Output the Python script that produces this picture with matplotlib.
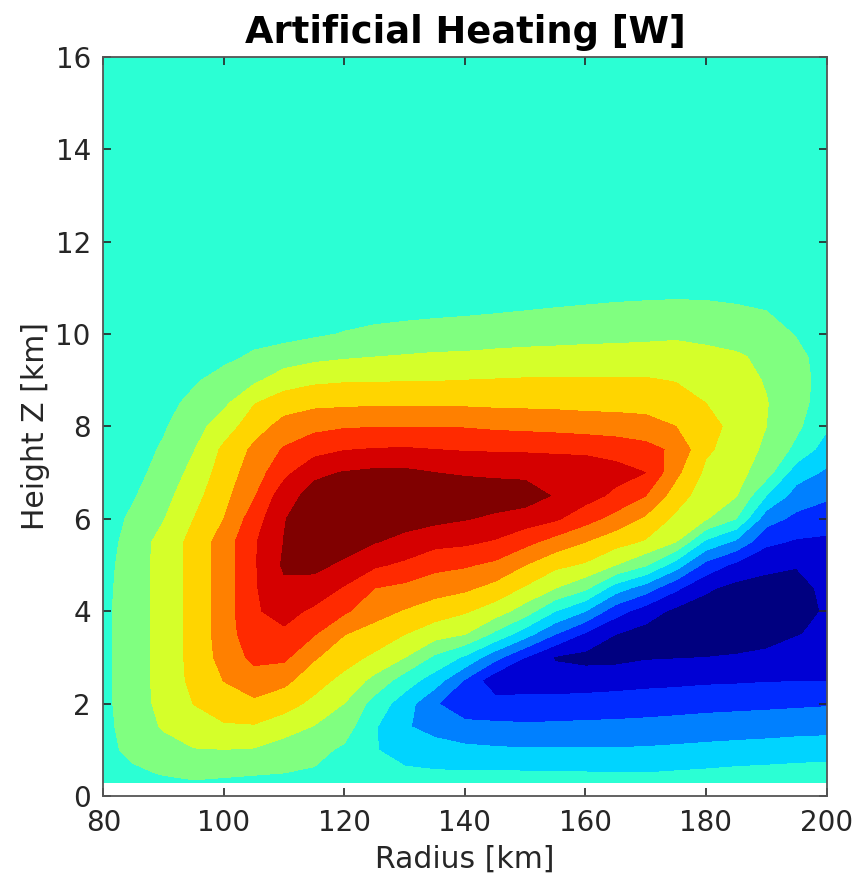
import numpy as np
import matplotlib
matplotlib.use("Agg")
import matplotlib.pyplot as plt
from matplotlib.colors import ListedColormap, BoundaryNorm

# ---------------- data ----------------
radius_km = [80, 85, 90, 95, 100, 105, 110, 115, 120, 125, 130, 135, 140,
             145, 150, 155, 160, 165, 170, 175, 180, 185, 190, 195, 200]
height_km = [0.3, 0.5, 1.0, 1.5, 2.0, 2.5, 3.0, 3.5, 4.0, 4.5, 5.0, 5.5, 6.0,
             6.5, 7.0, 7.5, 8.0, 8.5, 9.0, 9.5, 10.0, 10.5, 11.0, 11.5, 16.0]

# heating (contour-level units) along each radius column, bottom -> top
h_r080 = [0, 0.1, 0.21, 0.22, 0.26, 0.27, 0.27, 0.27, 0.27, 0.22, 0.14, 0.02, 0, 0, 0, 0, 0, 0, 0, 0, 0, 0, 0, 0, 0]
h_r085 = [0.15, 0.33, 0.75, 0.95, 1.02, 1.04, 1.04, 1.04, 1.04, 1.04, 1.04, 0.95, 0.7, 0.42, 0.2, 0.08, 0, 0, 0, 0, 0, 0, 0, 0, 0]
h_r090 = [0.3, 0.57, 1.1, 1.6, 1.8, 1.86, 1.86, 1.86, 1.86, 1.86, 1.86, 1.86, 1.45, 1.15, 0.85, 0.62, 0.4, 0.2, 0.07, 0, 0, 0, 0, 0, 0]
h_r095 = [0.45, 0.65, 1.45, 2.05, 2.52, 2.75, 2.82, 2.82, 2.82, 2.82, 2.82, 2.82, 2.5, 2.15, 1.8, 1.45, 1.1, 0.75, 0.38, 0.1, 0, 0, 0, 0, 0]
h_r100 = [0.4, 0.6, 1.48, 2.38, 3.0, 3.52, 3.85, 3.97, 3.97, 3.97, 3.97, 3.97, 3.5, 3.2, 2.95, 2.7, 2.0, 1.3, 0.85, 0.28, 0.05, 0, 0, 0, 0]
h_r105 = [0.35, 0.55, 1.42, 2.4, 3.3, 4.05, 4.75, 5.15, 5.38, 5.38, 5.38, 5.38, 5.0, 4.4, 4.0, 3.7, 3.05, 2.45, 1.3, 0.65, 0.15, 0, 0, 0, 0]
h_r110 = [0.3, 0.5, 1.0, 1.95, 2.9, 3.75, 4.7, 5.3, 5.85, 6.3, 6.65, 6.53, 6.45, 6.1, 5.2, 4.6, 3.85, 3.05, 2.0, 1.0, 0.15, 0, 0, 0, 0]
h_r115 = [0.2, 0.38, 0.82, 1.45, 2.25, 2.9, 3.6, 4.55, 5.3, 6.1, 6.75, 7.05, 7.1, 6.85, 6.3, 5.1, 4.25, 3.25, 2.3, 1.25, 0.35, 0.05, 0, 0, 0]
h_r120 = [0.1, 0.2, 0.32, 0.95, 1.48, 2.2, 2.9, 3.52, 4.65, 5.4, 6.3, 6.95, 7.2, 7.05, 6.55, 5.45, 4.4, 3.3, 2.4, 1.4, 0.55, 0.12, 0, 0, 0]
h_r125 = [-0.1, -0.25, -0.45, -0.4, 0.1, 1.2, 2.3, 3.1, 3.85, 4.5, 5.65, 6.55, 7.15, 7.2, 6.7, 5.55, 4.45, 3.35, 2.4, 1.5, 0.7, 0.2, 0, 0, 0]
h_r130 = [-0.2, -0.35, -0.85, -1.4, -1.0, 0.0, 1.5, 2.5, 3.42, 4.25, 5.3, 6.2, 6.9, 7.1, 6.7, 5.6, 4.45, 3.35, 2.45, 1.58, 0.8, 0.25, 0, 0, 0]
h_r135 = [-0.25, -0.4, -1.1, -1.85, -2.4, -1.0, 0.3, 1.9, 3.0, 3.9, 4.8, 5.8, 6.75, 7.05, 6.5, 5.5, 4.45, 3.35, 2.45, 1.65, 0.9, 0.3, 0, 0, 0]
h_r140 = [-0.25, -0.42, -1.27, -2.19, -3.2, -2.6, -0.67, 1.5, 2.61, 3.68, 4.61, 5.68, 6.55, 7.0, 6.4, 5.42, 4.43, 3.33, 2.5, 1.67, 0.97, 0.35, 0.05, 0, 0]
h_r145 = [-0.1, -0.4, -1.36, -2.31, -3.12, -4.2, -2.17, 0.25, 2.0, 3.17, 4.28, 5.39, 6.32, 7.0, 6.32, 5.39, 4.31, 3.28, 2.54, 1.74, 1.05, 0.42, 0.1, 0, 0]
h_r150 = [-0.1, -0.42, -1.42, -2.35, -3.17, -4.03, -3.5, -1.1, 1.0, 2.38, 3.5, 4.79, 6.0, 7.0, 6.25, 5.37, 4.24, 3.26, 2.58, 1.79, 1.11, 0.5, 0.15, 0, 0]
h_r155 = [-0.1, -0.42, -1.42, -2.32, -3.15, -4.05, -4.6, -2.5, -0.5, 1.5, 2.75, 4.1, 5.64, 6.4, 6.15, 5.33, 4.17, 3.24, 2.6, 1.82, 1.15, 0.55, 0.18, 0, 0]
h_r160 = [-0.08, -0.46, -1.42, -2.28, -3.1, -4.0, -4.8, -3.67, -1.5, 0.7, 2.36, 3.5, 4.88, 5.9, 6.05, 5.3, 4.05, 3.2, 2.59, 1.85, 1.2, 0.6, 0.2, 0, 0]
h_r165 = [-0.05, -0.48, -1.42, -2.24, -3.07, -3.9, -4.8, -4.5, -3.1, -1.0, 1.5, 2.88, 4.13, 5.28, 5.85, 5.12, 3.98, 3.18, 2.58, 1.88, 1.23, 0.66, 0.22, 0, 0]
h_r170 = [-0.05, -0.5, -1.39, -2.19, -3.0, -3.8, -4.6, -4.9, -4.0, -2.0, 0.6, 2.38, 3.32, 4.5, 5.5, 4.84, 3.85, 3.16, 2.58, 1.91, 1.27, 0.7, 0.24, 0, 0]
h_r175 = [-0.05, -0.42, -1.32, -2.12, -2.92, -3.75, -4.55, -4.93, -4.75, -3.3, -1.0, 1.5, 2.27, 3.0, 3.75, 4.28, 3.5, 2.97, 2.45, 1.88, 1.35, 0.73, 0.26, 0, 0]
h_r180 = [-0.05, -0.35, -1.24, -2.05, -2.83, -3.67, -4.5, -4.95, -4.95, -4.35, -2.83, -0.75, 1.57, 1.93, 2.28, 2.65, 2.85, 2.5, 2.12, 1.73, 1.28, 0.7, 0.25, 0, 0]
h_r185 = [-0.03, -0.25, -1.17, -1.99, -2.78, -3.63, -4.43, -4.95, -5.0, -4.8, -3.75, -1.7, 0.5, 1.55, 1.85, 2.08, 2.2, 2.12, 1.9, 1.62, 1.12, 0.62, 0.2, 0, 0]
h_r190 = [0.0, -0.2, -1.1, -1.95, -2.72, -3.57, -4.3, -4.85, -5.0, -4.8, -4.3, -3.28, -2.07, -0.5, 0.95, 1.3, 1.5, 1.55, 1.42, 1.3, 0.85, 0.5, 0.15, 0, 0]
h_r195 = [0.05, -0.15, -1.0, -1.89, -2.66, -3.54, -4.05, -4.55, -4.85, -4.8, -4.45, -3.62, -2.76, -1.92, -1.05, 0.25, 0.7, 0.82, 0.83, 0.72, 0.45, 0.2, 0.05, 0, 0]
h_r200 = [0.1, -0.1, -0.95, -1.85, -2.6, -3.55, -4.0, -4.3, -4.4, -4.3, -4.05, -3.7, -3.0, -2.35, -1.65, -0.98, -0.35, 0.05, 0.15, 0.15, 0.1, 0.05, 0, 0, 0]

columns = [h_r080, h_r085, h_r090, h_r095, h_r100, h_r105, h_r110, h_r115,
           h_r120, h_r125, h_r130, h_r135, h_r140, h_r145, h_r150, h_r155,
           h_r160, h_r165, h_r170, h_r175, h_r180, h_r185, h_r190, h_r195,
           h_r200]
heating = np.column_stack(columns)

# contour levels (13 filled bands) and MATLAB-jet colours for them
levels = [-5.5, -4.5, -3.5, -2.5, -1.5, -0.5, 0.5, 1.5, 2.5, 3.5, 4.5, 5.5, 6.5, 7.5]

def matlab_jet(x):
    r = np.clip(1.5 - abs(4 * x - 3), 0, 1)
    g = np.clip(1.5 - abs(4 * x - 2), 0, 1)
    b = np.clip(1.5 - abs(4 * x - 1), 0, 1)
    return (r, g, b)

n_bands = len(levels) - 1
band_colors = [matlab_jet(i / (n_bands - 1)) for i in range(n_bands)]
cmap = ListedColormap(band_colors)
norm = BoundaryNorm(levels, cmap.N)

# ---------------- figure ----------------
plt.rcParams['font.family'] = ['DejaVu Sans']
fig = plt.figure(figsize=(8.59, 8.74), dpi=100)
ax = fig.add_axes([0.1203, 0.0892, 0.8419, 0.8459])

R, Z = np.meshgrid(radius_km, height_km)
ax.contourf(R, Z, heating, levels=levels, cmap=cmap, norm=norm, antialiased=False)

ax.set_xlim(80, 200)
ax.set_ylim(0, 16)
ax.set_xticks(np.arange(80, 201, 20))
ax.set_yticks(np.arange(0, 17, 2))

dark = '#262626'
ax.tick_params(direction='in', length=6, width=1.2, top=True, right=True,
               labelsize=20, colors=dark, pad=9)
for s in ax.spines.values():
    s.set_color('#555555')
    s.set_linewidth(1.3)

ax.set_xlabel('Radius [km]', fontsize=21.5, color=dark, labelpad=6)
ax.set_ylabel('Height Z [km]', fontsize=21.5, color=dark, labelpad=4)
ax.set_title('Artificial Heating [W]', fontsize=26.5, fontweight='bold',
             color='black', pad=10)

fig.savefig('out.png', dpi=100)
